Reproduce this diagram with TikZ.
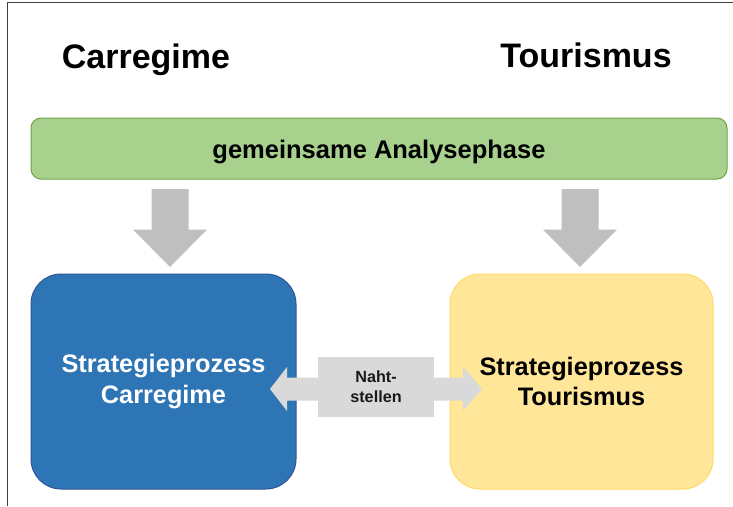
\documentclass[tikz,border=0pt]{standalone}
\usepackage{fontspec}
\setmainfont{Liberation Sans}
\begin{document}
\begin{tikzpicture}[x=1pt,y=-1pt,
  every node/.style={font=\bfseries, inner sep=0pt, align=center},
  title/.style={anchor=base, font=\fontsize{34}{40}\selectfont\bfseries},
  phase/.style={fill=phasegreen, line width=1pt,
    rounded corners=10pt, minimum width=696pt, minimum height=61pt,
    text height=20pt, text depth=0pt,
    font=\fontsize{25.5}{30}\selectfont\bfseries},
  process/.style={rounded corners=30pt, line width=1pt, minimum height=215pt,
    font=\fontsize{25.3}{30.5}\selectfont\bfseries},
  seam/.style={fill=seamgray, draw=none}]
\definecolor{phasegreen}{HTML}{A9D18E}
\definecolor{phaseedge}{HTML}{6FA24A}
\definecolor{carblue}{HTML}{2E75B6}
\definecolor{carblueedge}{HTML}{2F5597}
\definecolor{tourfill}{HTML}{FFE699}
\definecolor{touredge}{HTML}{FFD966}
\definecolor{arrowgray}{HTML}{BFBFBF}
\definecolor{seamgray}{HTML}{D9D9D9}
\definecolor{framegray}{HTML}{404040}

\useasboundingbox (0,0) rectangle (733,506);
\fill[white] (0,0) rectangle (733,506);

% frame lines along the left and top edges
\draw[framegray, line width=1pt] (7,506) -- (7,2.5) -- (733,2.5);

% column headings
\node[title] (hcar) at (146,68) {Carregime};
\node[title] (htour) at (586,67.5) {Tourismus};

% shared analysis phase
\node[phase, draw=phaseedge] (phase) at (379,148.5) {gemeinsame Analysephase};

% the two strategy processes
\node[process, fill=carblue, draw=carblueedge, text=white, minimum width=265pt]
  (pcar) at (163.5,381.5) {Strategieprozess\\Carregime};
\node[process, fill=tourfill, draw=touredge, text=black, minimum width=263pt]
  (ptour) at (581.5,381.5) {Strategieprozess\\Tourismus};

% block arrows from the analysis phase down to each process
\foreach \cx in {170, 580}{
  \fill[arrowgray] (\cx-18.5,189) -- (\cx+18.5,189) -- (\cx+18.5,229.5)
    -- (\cx+37,229.5) -- (\cx,267) -- (\cx-37,229.5) -- (\cx-18.5,229.5) -- cycle;
}

% double block arrow between the processes
\fill[seamgray] (270,389) -- (287,367) -- (287,377.5) -- (463,377.5) -- (463,367)
  -- (482,389) -- (463,411) -- (463,400.5) -- (287,400.5) -- (287,411) -- cycle;
\node[seam, minimum width=116pt, minimum height=60pt, text=black!90,
  font=\fontsize{16.2}{20}\selectfont\bfseries] (naht) at (376,387) {Naht-\\stellen};
\end{tikzpicture}
\end{document}
